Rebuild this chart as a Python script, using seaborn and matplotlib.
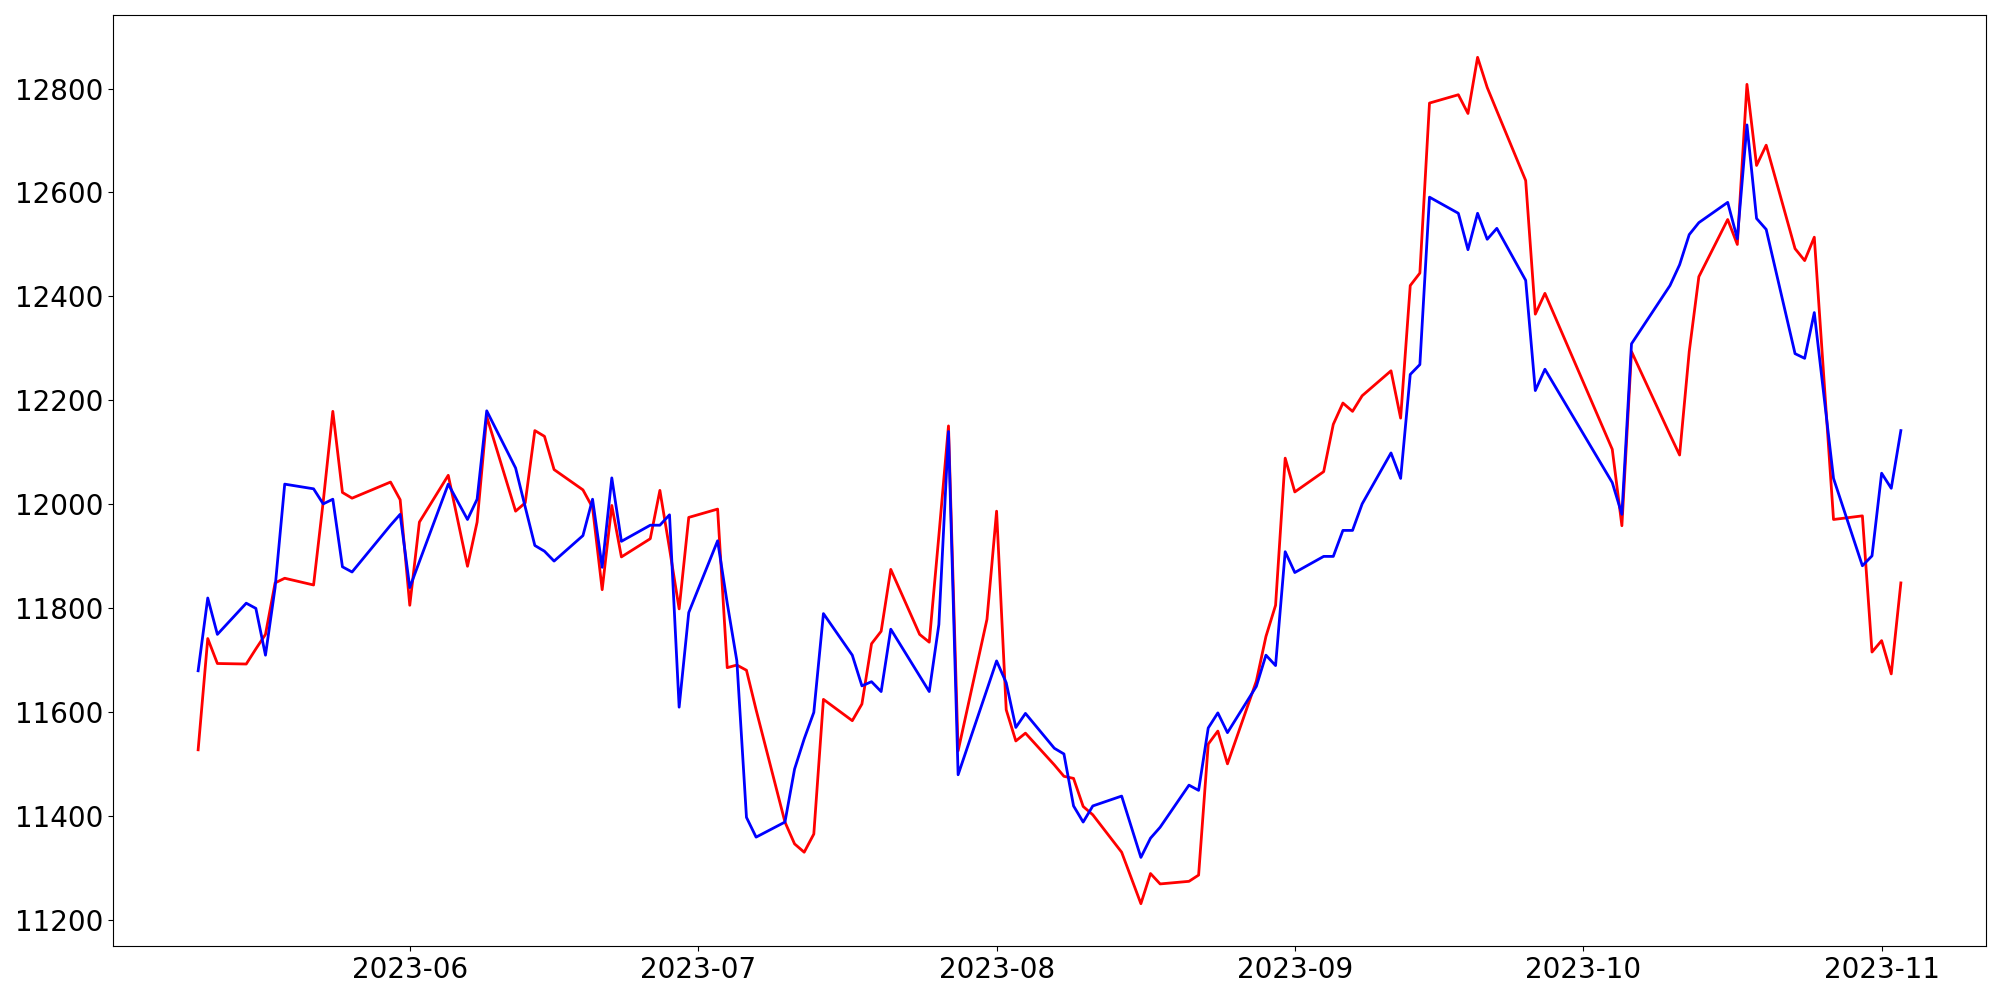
import matplotlib
matplotlib.use("Agg")
import matplotlib.pyplot as plt
import seaborn as sns
import pandas as pd

dates = [
    "2023-05-10", "2023-05-11", "2023-05-12", "2023-05-15", "2023-05-16", "2023-05-17", "2023-05-18", "2023-05-19",
    "2023-05-22", "2023-05-23", "2023-05-24", "2023-05-25", "2023-05-26", "2023-05-30", "2023-05-31",
    "2023-06-01", "2023-06-02", "2023-06-05", "2023-06-07", "2023-06-08", "2023-06-09",
    "2023-06-12", "2023-06-13", "2023-06-14", "2023-06-15", "2023-06-16",
    "2023-06-19", "2023-06-20", "2023-06-21", "2023-06-22", "2023-06-23",
    "2023-06-26", "2023-06-27", "2023-06-28", "2023-06-29", "2023-06-30",
    "2023-07-03", "2023-07-04", "2023-07-05", "2023-07-06", "2023-07-07",
    "2023-07-10", "2023-07-11", "2023-07-12", "2023-07-13", "2023-07-14",
    "2023-07-17", "2023-07-18", "2023-07-19", "2023-07-20", "2023-07-21",
    "2023-07-24", "2023-07-25", "2023-07-26", "2023-07-27", "2023-07-28",
    "2023-07-31", "2023-08-01", "2023-08-02", "2023-08-03", "2023-08-04",
    "2023-08-07", "2023-08-08", "2023-08-09", "2023-08-10", "2023-08-11",
    "2023-08-14", "2023-08-16", "2023-08-17", "2023-08-18",
    "2023-08-21", "2023-08-22", "2023-08-23", "2023-08-24", "2023-08-25",
    "2023-08-28", "2023-08-29", "2023-08-30", "2023-08-31", "2023-09-01",
    "2023-09-04", "2023-09-05", "2023-09-06", "2023-09-07", "2023-09-08",
    "2023-09-11", "2023-09-12", "2023-09-13", "2023-09-14", "2023-09-15",
    "2023-09-18", "2023-09-19", "2023-09-20", "2023-09-21", "2023-09-22",
    "2023-09-25", "2023-09-26", "2023-09-27",
    "2023-10-04", "2023-10-05", "2023-10-06",
    "2023-10-10", "2023-10-11", "2023-10-12", "2023-10-13",
    "2023-10-16", "2023-10-17", "2023-10-18", "2023-10-19", "2023-10-20",
    "2023-10-23", "2023-10-24", "2023-10-25", "2023-10-27",
    "2023-10-30", "2023-10-31", "2023-11-01", "2023-11-02", "2023-11-03",
]

red_values = [
    11528, 11742, 11694, 11693, 11722, 11750, 11849, 11858,
    11845, 12005, 12179, 12023, 12012, 12043, 12009,
    11806, 11966, 12056, 11881, 11966, 12169,
    11987, 12003, 12142, 12131, 12067,
    12028, 11994, 11836, 11998, 11899,
    11934, 12027, 11915, 11799, 11975,
    11991, 11686, 11691, 11681, 11605,
    11389, 11347, 11331, 11366, 11625,
    11584, 11616, 11732, 11756, 11875,
    11750, 11735, 11940, 12151, 11526,
    11779, 11987, 11605, 11545, 11560,
    11499, 11477, 11473, 11419, 11403,
    11331, 11232, 11290, 11270,
    11275, 11287, 11539, 11564, 11501,
    11660, 11746, 11806, 12089, 12024,
    12063, 12154, 12195, 12179, 12209,
    12257, 12166, 12421, 12445, 12772,
    12788, 12752, 12860, 12802, 12757,
    12623, 12366, 12406,
    12106, 11959, 12294,
    12134, 12095, 12294, 12438,
    12548, 12500, 12808, 12652, 12691,
    12492, 12469, 12514, 11971,
    11978, 11716, 11738, 11674, 11849,
]

blue_values = [
    11680, 11820, 11750, 11810, 11800, 11710, 11840, 12039,
    12030, 12001, 12010, 11880, 11870, 11960, 11981,
    11840, 11890, 12039, 11971, 12010, 12180,
    12070, 11995, 11921, 11910, 11891,
    11940, 12010, 11879, 12051, 11929,
    11960, 11960, 11980, 11610, 11792,
    11930, 11810, 11699, 11398, 11360,
    11389, 11491, 11549, 11600, 11790,
    11710, 11651, 11659, 11640, 11760,
    11670, 11640, 11769, 12140, 11480,
    11644, 11699, 11657, 11571, 11598,
    11531, 11520, 11420, 11389, 11420,
    11439, 11321, 11358, 11379,
    11460, 11450, 11570, 11599, 11561,
    11650, 11710, 11690, 11909, 11869,
    11900, 11900, 11950, 11950, 12001,
    12099, 12050, 12250, 12269, 12591,
    12560, 12490, 12560, 12510, 12531,
    12431, 12219, 12260,
    12042, 11981, 12309,
    12421, 12461, 12519, 12542,
    12581, 12511, 12730, 12550, 12529,
    12290, 12281, 12369, 12050,
    11882, 11901, 12060, 12031, 12142,
]

df = pd.DataFrame({
    "date": pd.to_datetime(dates),
    "red": red_values,
    "blue": blue_values,
})

fig = plt.figure(figsize=(20, 10), dpi=100)
ax = fig.add_axes([0.0565, 0.054, 0.9365, 0.931])

sns.lineplot(data=df, x="date", y="red", color="red", linewidth=2, ax=ax)
sns.lineplot(data=df, x="date", y="blue", color="blue", linewidth=2, ax=ax)

ax.set_xlabel("")
ax.set_ylabel("")
ax.tick_params(axis="both", labelsize=20)

fig.savefig("out.png", dpi=100)
